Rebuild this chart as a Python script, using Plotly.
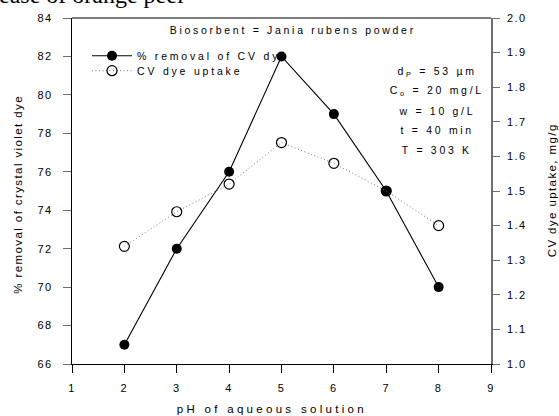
import plotly.graph_objects as go

# pH of the aqueous solution
ph = [2, 3, 4, 5, 6, 7, 8]
# % removal of crystal violet dye (left axis)
removal = [67, 72, 76, 82, 79, 75, 70]
# CV dye uptake, mg/g (right axis)
uptake = [1.34, 1.44, 1.52, 1.64, 1.58, 1.50, 1.40]

x_ticks = [1, 2, 3, 4, 5, 6, 7, 8, 9]
y1_ticks = [66, 68, 70, 72, 74, 76, 78, 80, 82, 84]
y2_ticks = [1.0, 1.1, 1.2, 1.3, 1.4, 1.5, 1.6, 1.7, 1.8, 1.9, 2.0]

conditions = [
    "d<sub>P</sub> = 53 \u00b5m",
    "C<sub>o</sub> = 20 mg/L",
    "w = 10 g/L",
    "t = 40 min",
    "T = 303 K",
]

FONT = "Liberation Sans, Arial, sans-serif"
GREY = "#6e6e6e"


def tracked(s, ls):
    return f'<span style="letter-spacing:{ls}px">{s}</span>'


fig = go.Figure()

fig.add_trace(go.Scatter(
    x=ph, y=removal, mode="lines+markers",
    name=tracked("% removal of CV dye", 2.8),
    line=dict(color="black", width=1.1),
    marker=dict(symbol="circle", size=10, color="black"),
    legend="legend",
))

fig.add_trace(go.Scatter(
    x=ph, y=uptake, mode="lines+markers",
    name=tracked("CV dye uptake", 2.8),
    yaxis="y2",
    line=dict(color="#7a7a7a", width=1, dash="1px,2.5px"),
    marker=dict(symbol="circle-open", size=10, color="black", line=dict(width=1.2, color="black")),
    legend="legend2",
))

W, H = 559, 416
L, R, T, B = 72, 68, 16, 52
pw, plot_h = W - L - R, H - T - B


def px(xp):
    return (xp - L) / pw


def py(yp):
    return (H - B - yp) / plot_h


def note(text, x, y, size, **kw):
    d = dict(text=text, x=px(x), y=py(y), xref="paper", yref="paper",
             xanchor="center", yanchor="middle", showarrow=False,
             font=dict(family=FONT, size=size, color="black"))
    d.update(kw)
    return d


annotations = [note("Biosorbent = Jania rubens powder", 293, 28, 10.5)]
for i, t in enumerate(conditions):
    annotations.append(note(t, 437, 70 + i * 19.7, 10.5))

# axis titles
annotations.append(note("pH of aqueous solution", 272, 409, 11.5))
annotations.append(note("% removal of crystal violet dye", 18, 193, 11.5, textangle=-90))
annotations.append(note("CV dye uptake, mg/g", 552, 190, 11.5, textangle=-90))
# caption line of the preceding figure, clipped at the top edge
annotations.append(note(
    "ease of orange peel", -3, -7, 24, xanchor="left",
    font=dict(family="Liberation Serif, Times New Roman, serif", size=24, color="black"),
))

fig.update_layout(
    width=W, height=H,
    margin=dict(l=L, r=R, t=T, b=B, pad=0),
    paper_bgcolor="white", plot_bgcolor="white",
    font=dict(family=FONT, size=11, color="black"),
    showlegend=True,
    xaxis=dict(
        range=[1, 9], tickvals=x_ticks,
        ticks="outside", ticklen=8, tickwidth=1, tickcolor="black",
        showline=True, linecolor="black", linewidth=1.2, mirror=False,
        showgrid=False, zeroline=False, ticklabelstandoff=6,
        tickfont=dict(family=FONT, size=11),
    ),
    yaxis=dict(
        range=[66, 84], tickvals=y1_ticks,
        ticks="outside", ticklen=8, tickwidth=1, tickcolor=GREY,
        showline=True, linecolor="black", linewidth=1.2,
        showgrid=False, zeroline=False, ticklabelstandoff=8,
        tickfont=dict(family=FONT, size=11),
    ),
    yaxis2=dict(
        range=[1.0, 2.0], overlaying="y", side="right",
        tickvals=y2_ticks, tickformat=".1f",
        ticks="outside", ticklen=7, tickwidth=1, tickcolor=GREY,
        showline=True, linecolor=GREY, linewidth=1.5,
        showgrid=False, zeroline=False, ticklabelstandoff=5,
        tickfont=dict(family=FONT, size=11),
    ),
    shapes=[dict(type="line", xref="paper", yref="paper", x0=0, x1=1, y0=1, y1=1,
                 line=dict(color="black", width=1.2))],
    legend=dict(
        x=px(87), y=py(54), xanchor="left", yanchor="middle",
        bgcolor="rgba(0,0,0,0)", borderwidth=0, itemwidth=40,
        font=dict(family=FONT, size=10.5),
    ),
    legend2=dict(
        x=px(87), y=py(69), xanchor="left", yanchor="middle",
        bgcolor="rgba(0,0,0,0)", borderwidth=0, itemwidth=40,
        font=dict(family=FONT, size=10.5),
    ),
    annotations=annotations,
)

# widen the tracking of the sans-serif labels
post_js = """
var css = document.createElement('style');
css.textContent = [
  '.annotation-text { letter-spacing: 2.7px !important; }',
  'g.annotation[data-index="6"] .annotation-text { letter-spacing: 3.3px !important; }',
  'g.annotation[data-index="7"] .annotation-text { letter-spacing: 1.4px !important; }',
  'g.annotation[data-index="8"] .annotation-text { letter-spacing: 1.4px !important; }',
  'g.annotation[data-index="9"] .annotation-text { letter-spacing: 0px !important; }',
  '.xtick text, .ytick text, .y2tick text { letter-spacing: 1.5px !important; }'
].join(' ');
document.head.appendChild(css);
"""

fig.write_html("out.html", post_script=post_js)
